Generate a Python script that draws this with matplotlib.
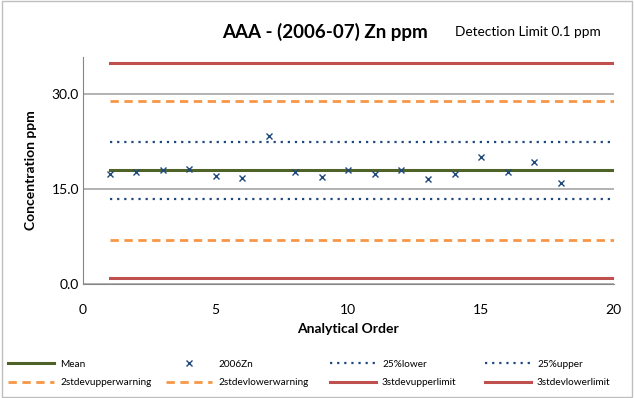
import matplotlib
matplotlib.use("Agg")
import matplotlib.pyplot as plt
from matplotlib.patches import Rectangle

plt.rcParams['font.family'] = ['Lato', 'DejaVu Sans']

# data
order = list(range(1, 19))
zn_2006 = [17.4, 17.8, 18.05, 18.15, 17.1, 16.8, 23.45, 17.7, 17.0,
           18.05, 17.4, 18.0, 16.7, 17.35, 20.05, 17.7, 19.25, 15.95]
line_x = list(range(1, 21))
mean_val = 18.0
lower_25 = 13.45
upper_25 = 22.5
upper_warn = 29.0
lower_warn = 6.95
upper_limit = 34.9
lower_limit = 0.9

fig = plt.figure(figsize=(6.34, 3.98), dpi=100)
ax = fig.add_axes([0.131, 0.286, 0.837, 0.572])

n = len(line_x)
h_mean, = ax.plot(line_x, [mean_val] * n, color='#4F6228', lw=2.2, label='Mean')
h_zn, = ax.plot(order, zn_2006, ls='none', marker='x', ms=5, mew=1.0,
                color='#1F497D', label='2006Zn')
h_l25, = ax.plot(line_x, [lower_25] * n, color='#1F497D', lw=1.6,
                 ls=(0, (1, 2.2)), label='25%lower')
h_u25, = ax.plot(line_x, [upper_25] * n, color='#1F497D', lw=1.6,
                 ls=(0, (1, 2.2)), label='25%upper')
h_uw, = ax.plot(line_x, [upper_warn] * n, color='#F79646', lw=2,
                ls=(0, (3, 2)), label='2stdevupperwarning')
h_lw, = ax.plot(line_x, [lower_warn] * n, color='#F79646', lw=2,
                ls=(0, (3, 2)), label='2stdevlowerwarning')
h_ul, = ax.plot(line_x, [upper_limit] * n, color='#C0504D', lw=2.2,
                label='3stdevupperlimit')
h_ll, = ax.plot(line_x, [lower_limit] * n, color='#C0504D', lw=2.2,
                label='3stdevlowerlimit')

ax.set_xlim(0, 20)
ax.set_ylim(0, 36)
ax.set_xticks([0, 5, 10, 15, 20])
ax.set_yticks([0, 15, 30])
ax.set_yticklabels(['0.0', '15.0', '30.0'])
ax.tick_params(length=0, labelsize=10)
ax.tick_params(axis='y', pad=3)
ax.tick_params(axis='x', pad=14)
ax.grid(axis='y', color='#A6A6A6', lw=1.2)
ax.set_axisbelow(True)
for s in ['top', 'right']:
    ax.spines[s].set_visible(False)
ax.spines['left'].set_color('#868686')
ax.spines['bottom'].set_color('#868686')

ax.set_xlabel('Analytical Order', fontsize=10, fontweight='bold', labelpad=5)
ax.set_ylabel('Concentration ppm', fontsize=10, fontweight='bold', labelpad=10)

fig.text(0.513, 0.92, 'AAA - (2006-07) Zn ppm', fontsize=13.5, fontweight='bold',
         ha='center', va='center')
fig.text(0.833, 0.92, 'Detection Limit 0.1 ppm', fontsize=9.8,
         ha='center', va='center')

# legend: four fixed columns, two rows each
columns = [(h_mean, h_uw), (h_zn, h_lw), (h_l25, h_ul), (h_u25, h_ll)]
col_x = [8, 166, 330, 485]
for hs, x0 in zip(columns, col_x):
    leg = fig.legend(list(hs), [h.get_label() for h in hs], ncol=1,
                     loc='center left', bbox_to_anchor=(x0 / 634, 1 - 373.5 / 398),
                     frameon=False, fontsize=7.2, handlelength=4.6,
                     handletextpad=0.6, labelspacing=0.95,
                     borderpad=0, borderaxespad=0)

fig.patches.append(Rectangle((0.003, 0.003), 0.994, 0.994, transform=fig.transFigure,
                             fill=False, edgecolor='#BFBFBF', lw=1))

fig.savefig('out.png', dpi=100)
